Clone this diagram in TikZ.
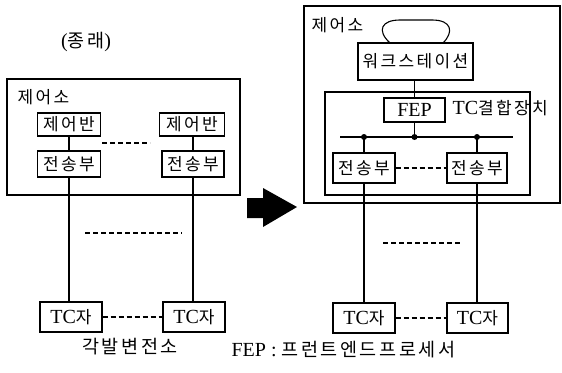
\documentclass[tikz,border=0pt]{standalone}
\usepackage{fontspec}
\setmainfont{Liberation Serif}
\newfontfamily\kr[LetterSpace=14]{Noto Sans CJK KR}
\newcommand\krs{\kr\fontsize{17}{20}\selectfont}
\newcommand\krl{\kr\fontsize{18.5}{21}\selectfont}
\newcommand\lts{\rmfamily\fontsize{20}{24}\selectfont}
\begin{document}
\begin{tikzpicture}[x=1pt,y=-1pt,line width=1.1pt,
  box/.style={draw,inner sep=0pt,font=\krs},
  lbl/.style={inner sep=0pt,font=\krs},
  dsh/.style={dash pattern=on 5pt off 3pt}]
\useasboundingbox (0,0) rectangle (562,372);

% ---------- left (old) ----------
\node[lbl] (old) at (86,42) {\rmfamily\fontsize{20}{22}\selectfont({\krl 종래})};
\draw (7,79) rectangle (240,195);
\node[lbl,anchor=west] (ctrlL) at (17,97) {\krs 제어소};
\node[box,minimum width=63pt,minimum height=23pt] (cb1) at (69,124.5) {\krs 제어반};
\node[box,minimum width=65pt,minimum height=23pt] (cb2) at (192,124.5) {\krs 제어반};
\node[box,minimum width=63pt,minimum height=26pt] (ts1) at (69,164) {\krs 전송부};
\node[box,minimum width=62pt,minimum height=26pt] (ts2) at (193,164) {\krs 전송부};
\draw (cb1) -- (ts1);
\draw (cb2.south -| ts2.north) -- (ts2.north);
\coordinate (d1a) at (102,143); \coordinate (d1b) at (150,143);
\draw[dsh] (d1a) -- (d1b);
\node[box,minimum width=62pt,minimum height=30pt] (tc1) at (71,317) {\lts TC{\krs 자}};
\node[box,minimum width=62pt,minimum height=30pt] (tc2) at (194,317) {\lts TC{\krs 자}};
\draw (ts1.south) -- (ts1.south |- tc1.north);
\draw (ts2.south) -- (ts2.south |- tc2.north);
\coordinate (d2a) at (85,233); \coordinate (d2b) at (182,233);
\draw[dsh] (d2a) -- (d2b);
\draw[dsh] (tc1.east) -- (tc2.west);
\node[lbl] (stations) at (130,347) {\krl 각발변전소};

% ---------- arrow ----------
\fill (247,198) -- (263,198) -- (263,188) -- (297,207) -- (263,227) -- (263,218) -- (247,218) -- cycle;

% ---------- right (new) ----------
\draw (304,6) rectangle (560,203);
\node[lbl,anchor=west] (ctrlR) at (311,25) {\krs 제어소};
\node[box,minimum width=115pt,minimum height=37pt] (ws) at (415.5,61.5) {\krs 워크스테이션};
\coordinate (la) at (390,43); \coordinate (lb) at (443,43);
\draw (la) .. controls (376,30) and (382,20) .. (400,20) -- (432,20) .. controls (452,20) and (454,32) .. (lb);
\draw (325,92) rectangle (530,195);
\node[box,minimum width=61pt,minimum height=24pt] (fep) at (414.5,110) {\lts FEP};
\draw (ws.south -| fep.north) -- (fep.north);
\node[lbl,anchor=west] (tcc) at (452,108) {\lts TC{\krs 결합장치}};
\coordinate (busL) at (340,137); \coordinate (busR) at (513,137);
\draw (busL) -- (busR);
\coordinate (n1) at (364,137); \coordinate (n2) at (414.5,137); \coordinate (n3) at (477,137);
\fill (n1) circle (3pt); \fill (n2) circle (3pt); \fill (n3) circle (3pt);
\draw (fep.south) -- (n2);
\node[box,minimum width=62pt,minimum height=30pt] (ts3) at (364,168) {\krs 전송부};
\node[box,minimum width=60pt,minimum height=30pt] (ts4) at (477,168) {\krs 전송부};
\draw (n1) -- (ts3.north);
\draw (n3) -- (ts4.north);
\draw[dsh] (ts3.east) -- (ts4.west);
\node[box,minimum width=62pt,minimum height=30pt] (tc3) at (364,318) {\lts TC{\krs 자}};
\node[box,minimum width=61pt,minimum height=30pt] (tc4) at (477.5,318) {\lts TC{\krs 자}};
\draw (ts3.south) -- (tc3.north);
\draw (ts4.south) -- (ts4.south |- tc4.north);
\coordinate (d3a) at (383,243); \coordinate (d3b) at (462,243);
\draw[dsh] (d3a) -- (d3b);
\draw[dsh] (tc3.east) -- (tc4.west);
\node[lbl,anchor=west] (legend) at (231,350) {\lts FEP : {\krl 프런트엔드프로세서}};
\end{tikzpicture}
\end{document}
